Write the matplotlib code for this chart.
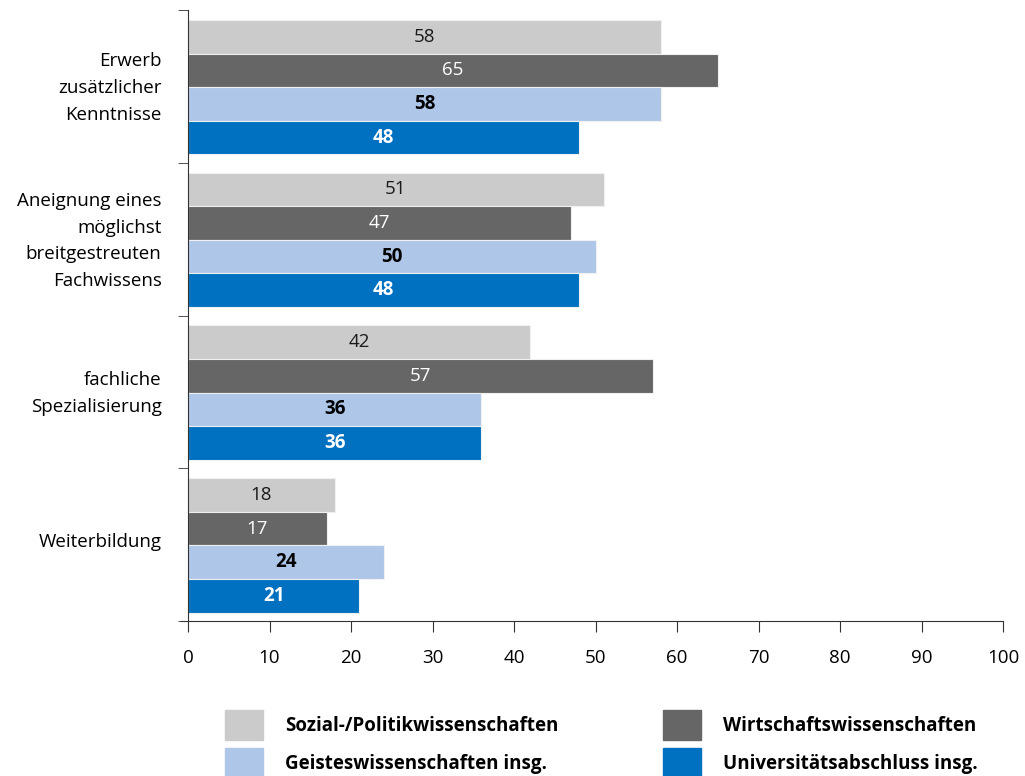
import matplotlib.pyplot as plt
from matplotlib.patches import Patch
import numpy as np

plt.rcParams['font.family'] = ['Open Sans', 'DejaVu Sans']

categories = ['Erwerb\nzusätzlicher\nKenntnisse',
              'Aneignung eines\nmöglichst\nbreitgestreuten\nFachwissens',
              'fachliche\nSpezialisierung',
              'Weiterbildung']
series_names = ['Sozial-/Politikwissenschaften', 'Wirtschaftswissenschaften',
                'Geisteswissenschaften insg.', 'Universitätsabschluss insg.']
sozial = [58, 51, 42, 18]
wirtschaft = [65, 47, 57, 17]
geistes = [58, 50, 36, 24]
uni = [48, 48, 36, 21]
xticks = [0, 10, 20, 30, 40, 50, 60, 70, 80, 90, 100]

colors = ['#cbcbcb', '#666666', '#aec6e8', '#0070c0']
label_colors = ['#1a1a1a', 'white', 'black', 'white']
label_weights = ['normal', 'normal', 'bold', 'bold']
fs = 13.5

fig = plt.figure(figsize=(10.25, 7.76), dpi=100)
ax = fig.add_axes([181 / 1025, 1 - 621 / 776, (1003 - 181) / 1025, (621 - 10) / 776])

y = np.arange(len(categories))
h = 0.22
offsets = [-1.5 * h, -0.5 * h, 0.5 * h, 1.5 * h]
for i, vals in enumerate([sozial, wirtschaft, geistes, uni]):
    bars = ax.barh(y + offsets[i] + 0.005, vals, h, color=colors[i],
                   edgecolor='#f0f0f0', linewidth=0.8, label=series_names[i])
    for b, v in zip(bars, vals):
        ax.text(v / 2, b.get_y() + b.get_height() / 2, str(v), ha='center', va='center',
                color=label_colors[i], fontweight=label_weights[i], fontsize=fs)

ax.set_ylim(len(categories) - 0.5, -0.5)
ax.set_xlim(-0.86, 100)
ax.spines['left'].set_position(('data', 0))
ax.spines['top'].set_visible(False)
ax.spines['right'].set_visible(False)
ax.spines['left'].set_color('#333333')
ax.spines['bottom'].set_color('#333333')

ax.set_yticks(y - 0.03)
ax.set_yticklabels(categories, fontsize=fs, linespacing=1.63)
ax.tick_params(axis='y', which='major', length=0, pad=19)
ax.set_yticks(np.arange(len(categories) + 1) - 0.5, minor=True)
ax.tick_params(axis='y', which='minor', length=7, color='#333333')

ax.set_xticks(xticks)
ax.set_xticklabels([str(t) for t in xticks], fontsize=fs)
ax.tick_params(axis='x', length=8, color='#333333', pad=12)

# legend: two columns placed separately
cols = [[0, 2], [1, 3]]
lefts = [225, 663]
for col, left in zip(cols, lefts):
    fig.legend([Patch(color=colors[k]) for k in col], [series_names[k] for k in col],
               loc='upper left', bbox_to_anchor=(left / 1025, 1 - 710 / 776),
               frameon=False, borderpad=0, borderaxespad=0,
               handlelength=2.0, handleheight=2.1, handletextpad=1.2,
               labelspacing=0.4, prop={'weight': 'bold', 'size': fs})

fig.savefig('out.png', dpi=100)
